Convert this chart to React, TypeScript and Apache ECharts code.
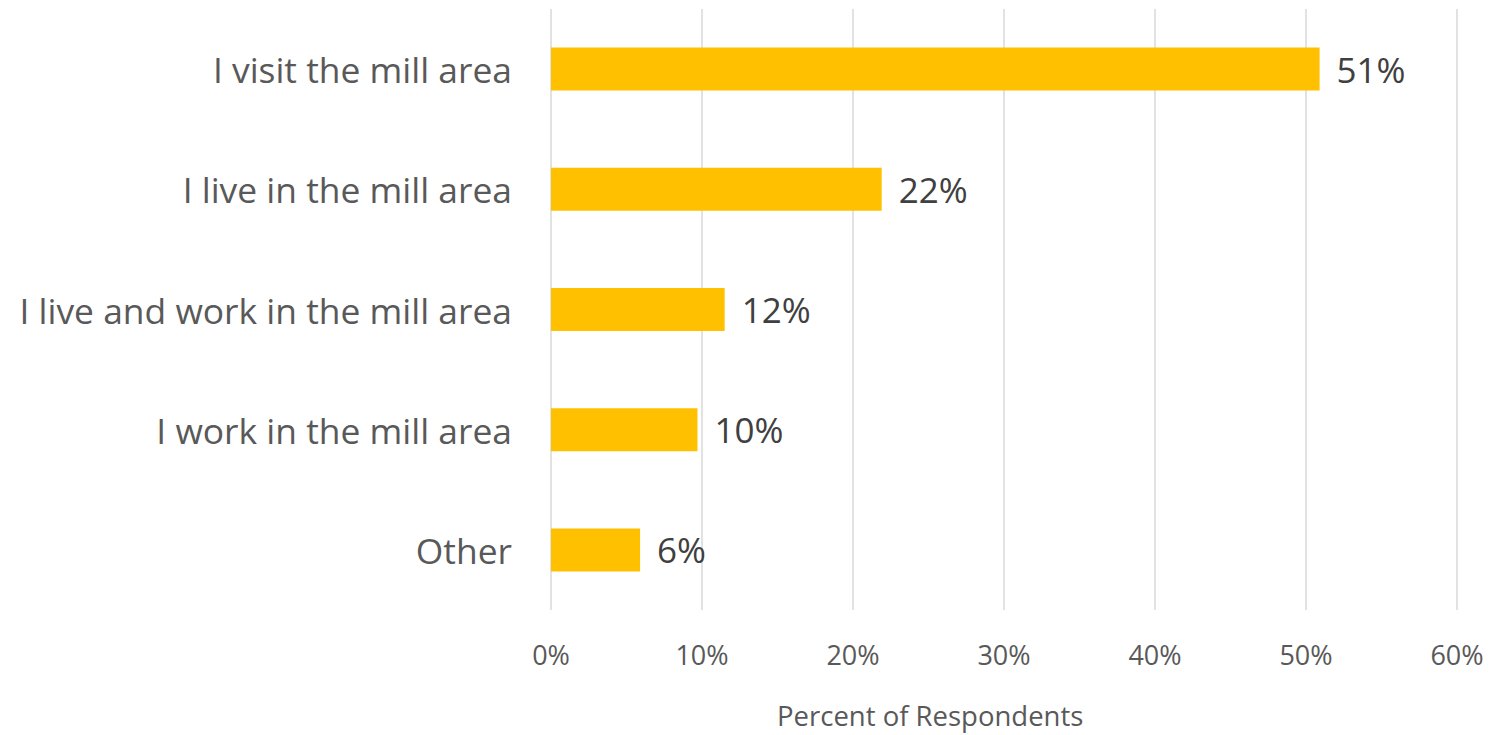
import React, { useEffect, useRef } from "react";
import * as echarts from "echarts";

const categories = [
  "I visit the mill area",
  "I live in the mill area",
  "I live and work in the mill area",
  "I work in the mill area",
  "Other",
];
const values = [50.9, 21.9, 11.5, 9.7, 5.9];
const tickMax = 60;
const tickInterval = 10;
const axisTitle = "Percent of Respondents";

export default function App() {
  const ref = useRef<HTMLDivElement>(null);
  useEffect(() => {
    document.body.style.margin = "0";
    const chart = echarts.init(ref.current!, null, { renderer: "svg" });
    const font = "'Open Sans', 'Noto Sans', sans-serif";
    chart.setOption({
      animation: false,
      backgroundColor: "#ffffff",
      grid: { left: 551, right: 44, top: 9, bottom: 125, containLabel: false },
      xAxis: {
        type: "value",
        min: 0,
        max: tickMax,
        interval: tickInterval,
        axisLine: { show: false },
        axisTick: { show: false },
        splitLine: { show: true, lineStyle: { color: "#d9d9d9", width: 1.5 } },
        axisLabel: {
          formatter: (v: number) => `${v}%`,
          color: "#595959",
          fontSize: 27,
          fontFamily: font,
          margin: 31,
        },
      },
      yAxis: {
        type: "category",
        data: categories,
        inverse: true,
        axisLine: { show: false },
        axisTick: { show: false },
        splitLine: { show: false },
        axisLabel: {
          color: "#595959",
          fontSize: 35.4,
          fontFamily: font,
          margin: 39,
        },
      },
      series: [
        {
          type: "bar",
          data: values,
          barWidth: 43,
          itemStyle: { color: "#ffc000" },
          label: {
            show: true,
            position: "right",
            distance: 17,
            formatter: (p: any) => `${Math.round(p.value)}%`,
            color: "#404040",
            fontSize: 35,
            fontFamily: font,
          },
        },
      ],
      graphic: [
        {
          type: "text",
          left: 777,
          top: 701,
          style: {
            text: axisTitle,
            fill: "#595959",
            fontSize: 27.5,
            fontFamily: font,
          },
        },
      ],
    });
    return () => chart.dispose();
  }, []);
  return (
    <div
      ref={ref}
      style={{ position: "absolute", left: 0, top: 0, width: 1501, height: 735 }}
    />
  );
}
